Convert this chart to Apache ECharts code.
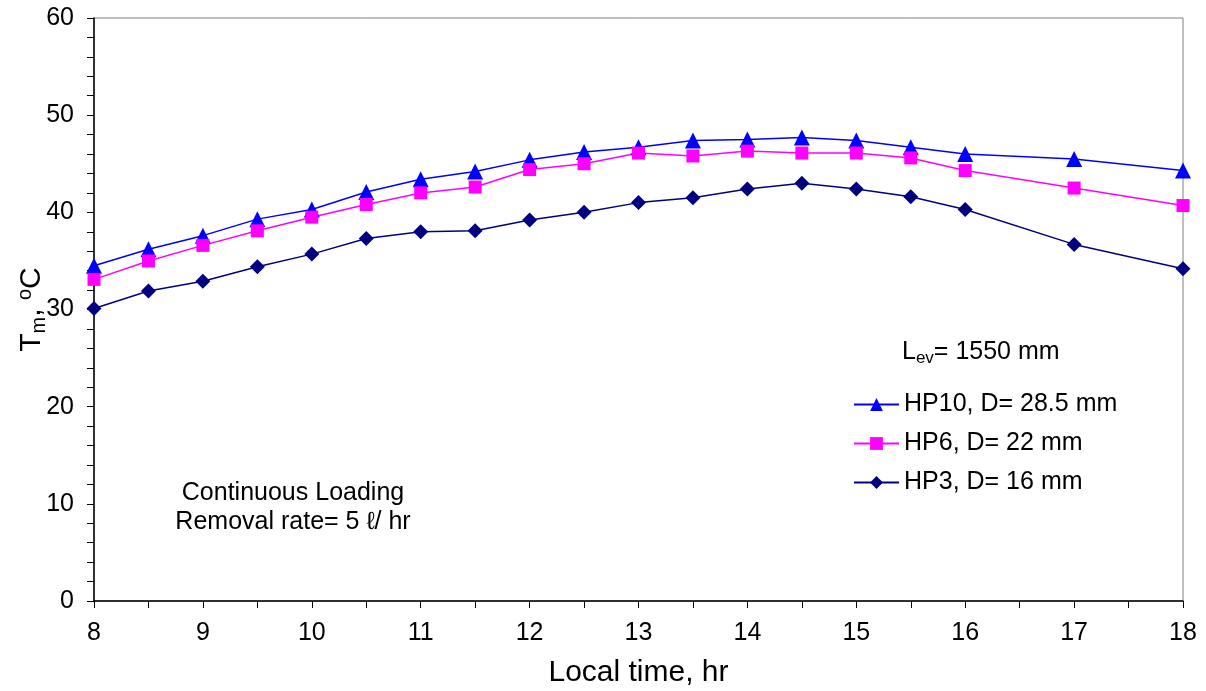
<!DOCTYPE html>
<html>
<head>
<meta charset="utf-8">
<script src="https://cdn.jsdelivr.net/npm/echarts@6/dist/echarts.min.js"></script>
<style>
  html, body { margin: 0; padding: 0; background: #fff; }
  #chart { width: 1206px; height: 691px; }
</style>
</head>
<body>
<div id="chart"></div>
<script>
// Local time of day (hours)
const hours = [8, 8.5, 9, 9.5, 10, 10.5, 11, 11.5, 12, 12.5, 13, 13.5, 14, 14.5, 15, 15.5, 16, 17, 18];

// Mean temperature Tm (°C) for each heat pipe
const hp10 = [34.5, 36.2, 37.6, 39.3, 40.3, 42.1, 43.4, 44.2, 45.4, 46.2, 46.7, 47.4, 47.5, 47.7, 47.4, 46.7, 46.0, 45.5, 44.3];
const hp6  = [33.1, 35.0, 36.6, 38.1, 39.5, 40.8, 42.0, 42.6, 44.4, 45.0, 46.1, 45.8, 46.3, 46.1, 46.1, 45.6, 44.3, 42.5, 40.7];
const hp3  = [30.1, 31.9, 32.9, 34.4, 35.7, 37.3, 38.0, 38.1, 39.2, 40.0, 41.0, 41.5, 42.4, 43.0, 42.4, 41.6, 40.3, 36.7, 34.2];

const seriesNames = ['HP10, D= 28.5 mm', 'HP6, D= 22 mm', 'HP3, D= 16 mm'];

const pairs = arr => hours.map((h, i) => [h, arr[i]]);
const FONT = 'Liberation Sans, Arial, sans-serif';

const chart = echarts.init(document.getElementById('chart'), null, { renderer: 'canvas' });

chart.setOption({
  backgroundColor: '#fff',
  animation: false,
  textStyle: { fontFamily: FONT, color: '#000' },
  grid: {
    left: 94, right: 23, top: 18, bottom: 90,
    outerBoundsMode: 'none', containLabel: false,
    show: true, borderColor: '#808080', borderWidth: 1
  },
  xAxis: {
    type: 'value', min: 8, max: 18, interval: 1,
    name: 'Local time, hr', nameLocation: 'middle', nameGap: 57,
    nameMoveOverlap: false,
    nameTextStyle: { fontSize: 30, color: '#000', fontFamily: FONT },
    axisLine: { lineStyle: { color: '#000', width: 1.5 } },
    axisTick: { show: true, length: 7, lineStyle: { color: '#000', width: 1 } },
    minorTick: { show: true, splitNumber: 2, length: 7, lineStyle: { color: '#000', width: 1 } },
    axisLabel: { fontSize: 25, color: '#000', margin: 20, fontFamily: FONT },
    splitLine: { show: false }
  },
  yAxis: {
    type: 'value', min: 0, max: 60, interval: 10,
    name: '{a|T}{sub|m}{a|,\u00a0}{sup|o}{a|C}', nameLocation: 'middle', nameGap: 45, nameRotate: 90,
    nameMoveOverlap: false,
    nameTextStyle: {
      color: '#000', fontFamily: FONT,
      rich: {
        a: { fontSize: 30, fontFamily: FONT, color: '#000' },
        sub: { fontSize: 20, fontFamily: FONT, color: '#000', padding: [14, 0, 0, 0] },
        sup: { fontSize: 20, fontFamily: FONT, color: '#000', padding: [0, 0, 14, 0] }
      }
    },
    axisLine: { show: true, lineStyle: { color: '#000', width: 1.5 } },
    axisTick: { show: true, length: 7, lineStyle: { color: '#000', width: 1 } },
    minorTick: { show: true, splitNumber: 5, length: 7, lineStyle: { color: '#000', width: 1 } },
    axisLabel: { fontSize: 25, color: '#000', margin: 20, fontFamily: FONT },
    splitLine: { show: false }
  },
  legend: {
    orient: 'vertical',
    left: 848, top: 387,
    itemWidth: 45, itemHeight: 16, itemGap: 14,
    textStyle: { fontSize: 25, color: '#000', fontFamily: FONT, padding: [0, 0, 0, 0] },
    data: seriesNames
  },
  graphic: [
    {
      type: 'text', x: 902, y: 352,
      style: {
        rich: {
          a: { fontSize: 25, fontFamily: FONT, fill: '#000' },
          sub: { fontSize: 17, fontFamily: FONT, fill: '#000', padding: [12, 0, 0, 0] }
        },
        text: '{a|L}{sub|ev}{a|= 1550 mm}',
        verticalAlign: 'middle'
      }
    },
    {
      type: 'text', x: 293, y: 508,
      style: {
        text: 'Continuous Loading\nRemoval rate= 5 ℓ/ hr',
        fontSize: 25, fontFamily: FONT, fill: '#000',
        align: 'center', verticalAlign: 'middle', lineHeight: 29
      }
    }
  ],
  series: [
    {
      name: seriesNames[0], type: 'line', data: pairs(hp10),
      symbol: 'triangle', symbolSize: 16,
      itemStyle: { color: '#0000FF' },
      lineStyle: { color: '#0000FF', width: 1.5 }
    },
    {
      name: seriesNames[1], type: 'line', data: pairs(hp6),
      symbol: 'rect', symbolSize: 13,
      itemStyle: { color: '#FF00FF' },
      lineStyle: { color: '#FF00FF', width: 1.5 }
    },
    {
      name: seriesNames[2], type: 'line', data: pairs(hp3),
      symbol: 'diamond', symbolSize: 15,
      itemStyle: { color: '#000080' },
      lineStyle: { color: '#000080', width: 1.5 }
    }
  ]
});
</script>
</body>
</html>
